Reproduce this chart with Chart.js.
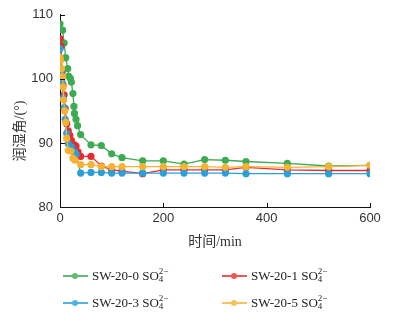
<!DOCTYPE html>
<html>
<head>
<meta charset="utf-8">
<script src="https://cdn.jsdelivr.net/npm/chart.js@4/dist/chart.umd.min.js"></script>
<style>
  html, body { margin: 0; padding: 0; background: #fff; }
  #wrap { position: relative; width: 411px; height: 325px; }
  #legend { position: absolute; left: 0; top: 0; width: 411px; height: 325px; pointer-events: none;
    font-family: "Liberation Serif", "Noto Sans CJK SC", serif; font-size: 13px; color: #222; }
  .item { position: absolute; height: 16px; line-height: 16px; white-space: nowrap; }
  .sw { position: absolute; left: 0; top: 7px; width: 25px; height: 1.5px; }
  .dot { position: absolute; left: 9px; top: -2.5px; width: 6px; height: 6px; border-radius: 50%; }
  .txt { position: absolute; left: 29px; top: 0; }
  .ion { display: inline-block; position: relative; width: 12px; height: 10px; }
  .ion .up { position: absolute; left: 0; top: -3px; font-size: 9px; line-height: 9px; }
  .ion .dn { position: absolute; left: 0; top: 5px; font-size: 9px; line-height: 9px; }
</style>
</head>
<body>
<div id="wrap">
  <canvas id="chart"></canvas>
  <div id="legend"></div>
</div>
<script>
/* ── Data ── */
const LABELS = ['SW-20-0', 'SW-20-1', 'SW-20-3', 'SW-20-5'];

const T_SW0 = [0, 5, 8, 11, 15, 17, 20, 22, 25, 27, 28, 31, 34, 40, 60, 80, 100, 120, 160, 200, 240, 280, 320, 360, 440, 520, 600];
const V_SW0 = [108.6, 107.6, 105.6, 103.3, 101.6, 100.4, 100.1, 99.5, 97.7, 95.7, 94.6, 93.7, 92.7, 91.3, 89.7, 89.6, 88.3, 87.7, 87.2, 87.2, 86.7, 87.4, 87.3, 87.1, 86.8, 86.4, 86.5];

const T_SW1 = [0, 2, 4, 6, 8, 10, 13, 16, 19, 22, 28, 31, 35, 40, 60, 80, 100, 120, 160, 200, 240, 280, 320, 360, 440, 520, 600];
const V_SW1 = [106.3, 105.1, 101.0, 99.0, 97.5, 95.4, 93.0, 91.9, 91.2, 90.4, 89.7, 89.5, 88.6, 87.9, 87.9, 86.4, 85.8, 85.6, 85.2, 85.8, 85.8, 85.8, 85.8, 86.2, 85.8, 85.7, 85.7];

const T_SW3 = [0, 2, 4, 6, 8, 10, 13, 16, 22, 28, 31, 40, 60, 80, 100, 120, 160, 200, 240, 280, 320, 360, 440, 520, 600];
const V_SW3 = [104.7, 101.0, 99.5, 97.0, 95.5, 93.7, 91.5, 89.9, 89.4, 88.6, 88.2, 85.3, 85.4, 85.4, 85.3, 85.3, 85.3, 85.3, 85.3, 85.3, 85.3, 85.2, 85.2, 85.2, 85.2];

const T_SW5 = [0, 1, 3, 5, 6, 7, 9, 11, 13, 16, 21, 25, 29, 40, 60, 80, 100, 120, 160, 200, 240, 280, 320, 360, 440, 520, 600];
const V_SW5 = [103.4, 102.9, 101.6, 100.3, 98.7, 96.7, 95.0, 93.2, 90.7, 88.8, 88.7, 87.6, 87.3, 86.6, 86.6, 86.3, 86.3, 86.3, 86.3, 86.3, 86.3, 86.3, 86.2, 86.3, 86.2, 86.3, 86.5];

const X_TICKS = [0, 200, 400, 600];
const Y_TICKS = [80, 90, 100, 110];

/* ── Colors ── */
const COLORS = ['#3daa54', '#e52d2f', '#2a9fdc', '#f7b234'];

function pts(ts, vs) { return ts.map((t, i) => ({ x: t, y: vs[i] })); }

const SERIES = [pts(T_SW0, V_SW0), pts(T_SW1, V_SW1), pts(T_SW3, V_SW3), pts(T_SW5, V_SW5)];

/* ── Inward tick marks + rotated y title ── */
const axisExtras = {
  id: 'axisExtras',
  afterDraw(chart) {
    const { ctx, scales: { x, y }, chartArea: a } = chart;
    ctx.save();
    ctx.strokeStyle = '#111';
    ctx.lineWidth = 1;
    ctx.beginPath();
    X_TICKS.slice(1).forEach(v => {
      const px = Math.round(x.getPixelForValue(v)) + 0.5;
      ctx.moveTo(px, a.bottom);
      ctx.lineTo(px, a.bottom - 4);
    });
    Y_TICKS.forEach(v => {
      const py = Math.round(y.getPixelForValue(v)) + 0.5;
      ctx.moveTo(a.left, py);
      ctx.lineTo(a.left + 5, py);
    });
    ctx.stroke();

    ctx.translate(20, 131);
    ctx.rotate(-Math.PI / 2);
    ctx.fillStyle = '#333';
    ctx.font = '14px "Liberation Serif", "Noto Sans CJK SC", serif';
    ctx.textAlign = 'center';
    ctx.textBaseline = 'middle';
    ctx.fillText('润湿角/(°)', 0, 0);
    ctx.restore();
  }
};

new Chart(document.getElementById('chart'), {
  type: 'line',
  data: {
    datasets: SERIES.map((d, i) => ({
      label: LABELS[i],
      data: d,
      borderColor: COLORS[i],
      backgroundColor: COLORS[i],
      pointBackgroundColor: COLORS[i],
      pointBorderWidth: 0,
      pointRadius: 3.6,
      borderWidth: 1.3,
      tension: 0,
      order: 4 - i,
    }))
  },
  options: {
    responsive: true,
    maintainAspectRatio: false,
    animation: false,
    layout: { padding: { left: 0, right: 41, top: 14, bottom: 74 } },
    plugins: { legend: { display: false }, tooltip: { enabled: false } },
    scales: {
      x: {
        type: 'linear',
        min: 0, max: 600,
        afterFit: s => { s.height = 44; },
        afterBuildTicks: s => { s.ticks = X_TICKS.map(v => ({ value: v })); },
        grid: { display: true, drawOnChartArea: false, drawTicks: false },
        border: { display: true, color: '#111', width: 1 },
        ticks: { padding: 4, color: '#333', font: { family: '"Liberation Sans", Arial, sans-serif', size: 13 } },
        title: {
          display: true, text: '时间/min', color: '#333', padding: 0,
          font: { family: '"Liberation Serif", "Noto Sans CJK SC", serif', size: 14 }
        }
      },
      y: {
        min: 80, max: 110,
        afterFit: s => { s.width = 60; },
        afterBuildTicks: s => { s.ticks = Y_TICKS.map(v => ({ value: v })); },
        grid: { display: true, drawOnChartArea: false, drawTicks: false },
        border: { display: true, color: '#111', width: 1 },
        ticks: { padding: 7, color: '#333', font: { family: '"Liberation Sans", Arial, sans-serif', size: 13 } }
      }
    }
  },
  plugins: [axisExtras]
});

/* ── Legend ── */
const legendPos = [[63, 268], [222, 268], [63, 295], [222, 295]];
const legend = document.getElementById('legend');
LABELS.forEach((name, i) => {
  const el = document.createElement('div');
  el.className = 'item';
  el.style.left = legendPos[i][0] + 'px';
  el.style.top = legendPos[i][1] + 'px';
  el.innerHTML = `
    <span class="sw" style="background:${COLORS[i]};opacity:0.8"><span class="dot" style="background:${COLORS[i]}"></span></span>
    <span class="txt">${name} SO<span class="ion"><span class="up">2−</span><span class="dn">4</span></span></span>`;
  legend.appendChild(el);
});
</script>
</body>
</html>
